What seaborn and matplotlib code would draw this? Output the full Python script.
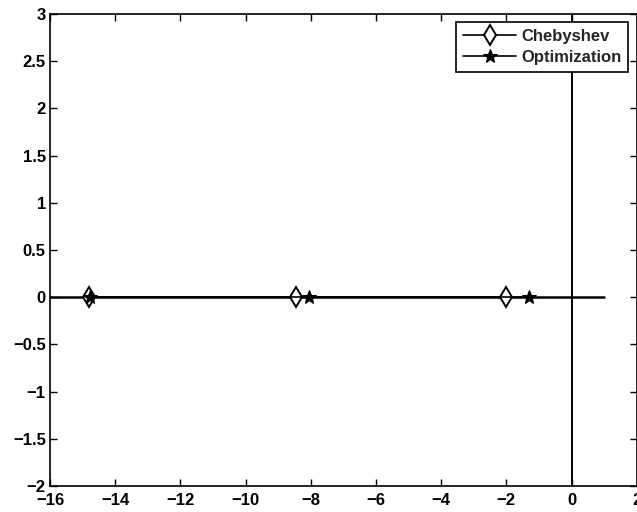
import matplotlib
matplotlib.use("Agg")
import matplotlib.pyplot as plt
import seaborn as sns
import pandas as pd

# Data (pole locations on the real axis)
cheb_re = [-14.8, -8.45, -2.0]
cheb_im = [0, 0, 0]
opt_re = [-14.78, -8.05, -1.3]
opt_im = [0, 0, 0]

real_axis_x = [-16, 1]
real_axis_y = [0, 0]
imag_axis_x = [0, 0]
imag_axis_y = [-2, 3]

xticks = list(range(-16, 3, 2))
yticks = [-2, -1.5, -1, -0.5, 0, 0.5, 1, 1.5, 2, 2.5, 3]
ytick_labels = ["\u22122", "\u22121.5", "\u22121", "\u22120.5", "0", "0.5", "1", "1.5", "2", "2.5", "3"]
xtick_labels = [("\u2212" + str(-v)) if v < 0 else str(v) for v in xticks]

sns.set_style("ticks")
plt.rcParams["font.family"] = ["Liberation Sans", "DejaVu Sans"]
plt.rcParams["font.weight"] = "bold"

fig = plt.figure(figsize=(6.37, 5.12), dpi=100)
ax = fig.add_axes([50 / 637, 26 / 512, 586.7 / 637, 472 / 512])

df_c = pd.DataFrame({"re": cheb_re, "im": cheb_im})
df_o = pd.DataFrame({"re": opt_re, "im": opt_im})

sns.lineplot(data=df_c, x="re", y="im", ax=ax, color="black", lw=1.2,
             marker="d", markersize=10, markerfacecolor="white",
             markeredgecolor="black", markeredgewidth=1.4, label="Chebyshev",
             sort=False)
sns.lineplot(data=df_o, x="re", y="im", ax=ax, color="black", lw=1.2,
             marker="*", markersize=10, markerfacecolor="black",
             markeredgecolor="black", label="Optimization", sort=False)

ax.plot(real_axis_x, real_axis_y, color="black", lw=1.8, zorder=1)
ax.plot(imag_axis_x, imag_axis_y, color="black", lw=1.4, zorder=1)

ax.set_xlim(-16, 2)
ax.set_ylim(-2, 3)
ax.set_xticks(xticks)
ax.set_xticklabels(xtick_labels)
ax.set_yticks(yticks)
ax.set_yticklabels(ytick_labels)
ax.set_xlabel("")
ax.set_ylabel("")
ax.tick_params(direction="in", top=True, right=True, length=5, width=1,
               labelsize=12, colors="black")
ax.tick_params(axis="x", pad=5)
ax.tick_params(axis="y", pad=3)
for lab in ax.get_xticklabels() + ax.get_yticklabels():
    lab.set_fontweight("bold")
for sp in ax.spines.values():
    sp.set_visible(True)
    sp.set_linewidth(1.2)
    sp.set_color("black")

leg = ax.legend(loc="upper right", fontsize=12, frameon=True, fancybox=False,
                edgecolor="black", framealpha=1, borderaxespad=0.5,
                handlelength=3.2, borderpad=0.4, labelspacing=0.35,
                handletextpad=0.3)
leg.get_frame().set_linewidth(1.2)
for t in leg.get_texts():
    t.set_fontweight("bold")

fig.savefig("out.png", dpi=100)
